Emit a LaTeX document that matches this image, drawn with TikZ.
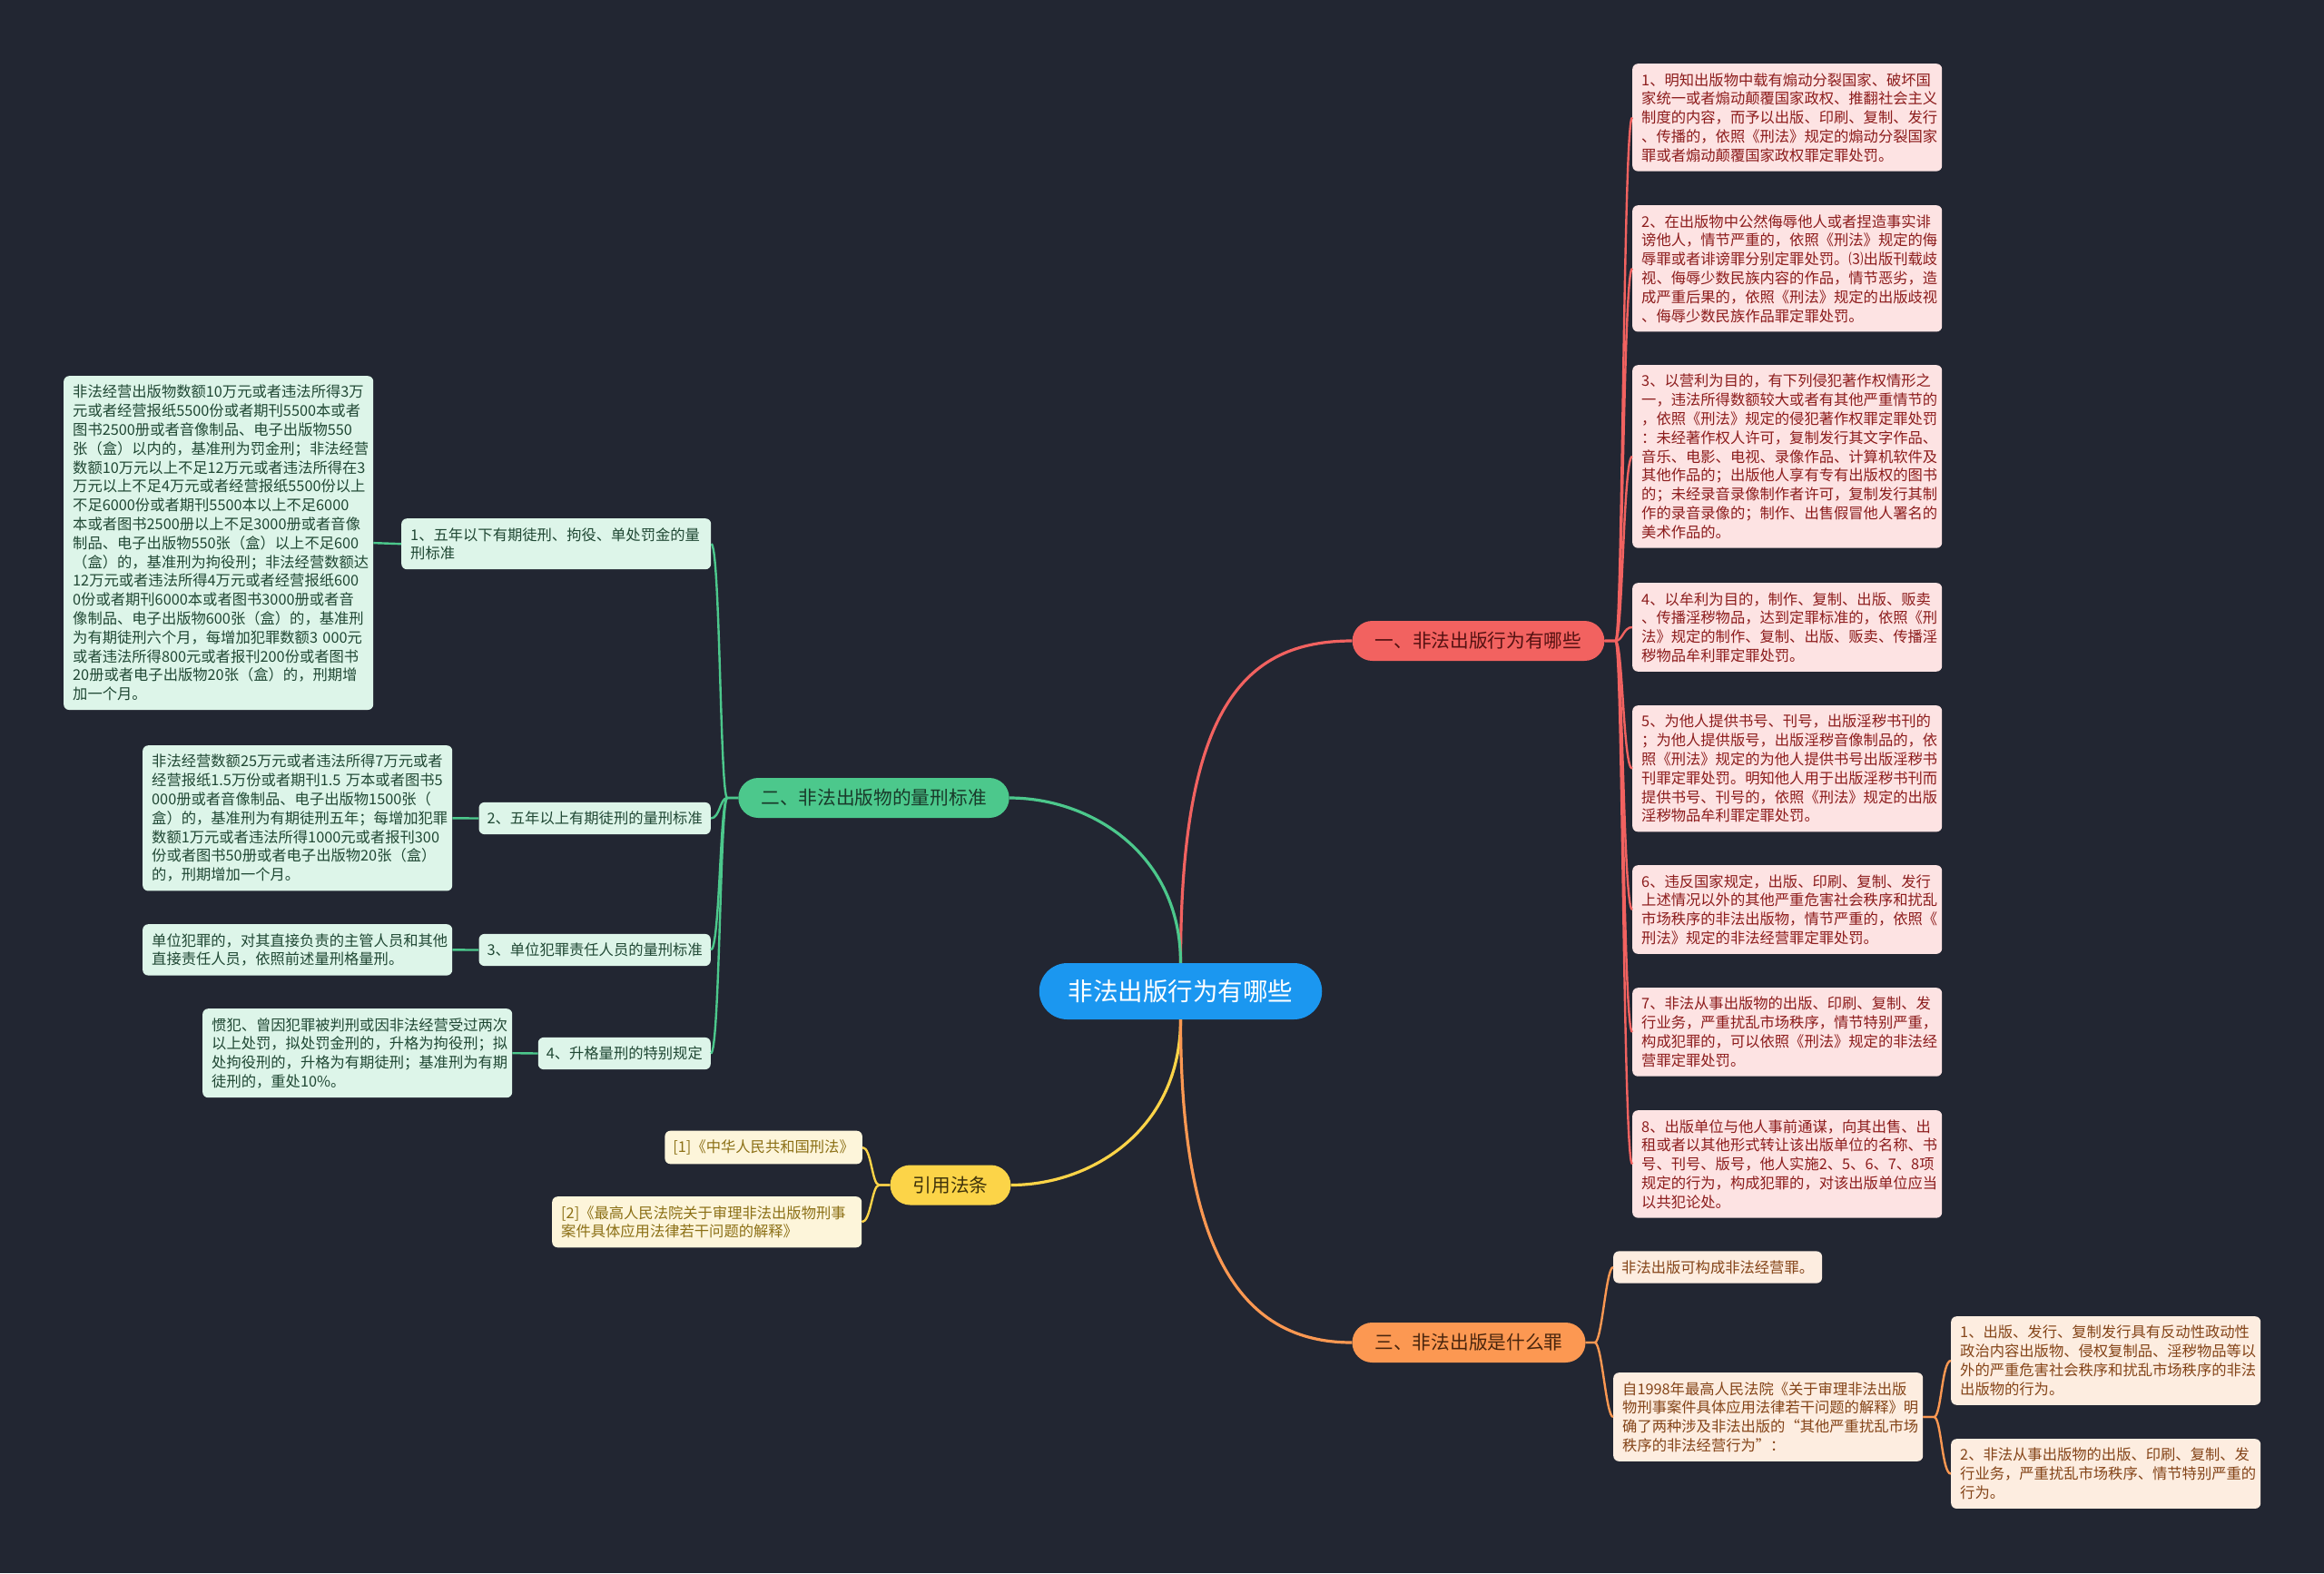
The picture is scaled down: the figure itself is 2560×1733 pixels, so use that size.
\documentclass[tikz,border=0pt]{standalone}
\usepackage{fontspec}
\newfontfamily\cjk{Noto Sans CJK SC}
\usetikzlibrary{scopes}

\definecolor{bg}{RGB}{34,38,50}
\definecolor{rootblue}{RGB}{27,151,240}
\definecolor{redmain}{RGB}{242,98,96}
\definecolor{greenmain}{RGB}{76,200,140}
\definecolor{yellowmain}{RGB}{252,212,72}
\definecolor{orangemain}{RGB}{252,152,82}
\definecolor{redleaf}{RGB}{253,227,227}
\definecolor{greenleaf}{RGB}{221,245,233}
\definecolor{yellowleaf}{RGB}{253,245,218}
\definecolor{orangeleaf}{RGB}{253,237,224}
\definecolor{redtext}{RGB}{140,28,28}
\definecolor{greentext}{RGB}{32,72,52}
\definecolor{yellowtext}{RGB}{140,112,22}
\definecolor{orangetext}{RGB}{132,68,24}

\tikzset{
  leafbox/.style={rounded corners=6pt, inner xsep=10pt, inner ysep=10pt, align=left,
    font=\cjk\fontsize{16.3}{20.8}\selectfont},
  leaf/.style={leafbox, text width=321pt},
  topic/.style={rounded corners=22pt, minimum height=44pt, inner xsep=25pt,
    font=\cjk\fontsize{20.7}{24}\selectfont},
  link/.style={line width=2.4pt},
  mainlink/.style={line width=3.2pt},
}

\begin{document}
\begin{tikzpicture}[x=1pt, y=-1pt]
  \useasboundingbox (0,0) rectangle (2560,1733);
  \fill[bg] (0,0) rectangle (2560,1733);

  \node[fill=rootblue, text=white, rounded corners=31pt, minimum height=62pt, inner xsep=32pt,
    font=\cjk\fontsize{27.5}{30}\selectfont] (root) at (1300.5,1092) {非法出版行为有哪些};

  \node[topic, fill=redmain, text=redtext!60!black] (b1) at (1628.5,706) {一、非法出版行为有哪些};
  \node[topic, fill=greenmain, text=greentext!80!black] (b2) at (962.5,879) {二、非法出版物的量刑标准};
  \node[topic, fill=yellowmain, text=yellowtext!45!black] (b3) at (1047,1305.5) {引用法条};
  \node[topic, fill=orangemain, text=orangetext!55!black] (b4) at (1618,1479) {三、非法出版是什么罪};

  { [every node/.append style={leaf, fill=redleaf, text=redtext, anchor=north west}]
    \node (r1) at (1798,70) {1、明知出版物中载有煽动分裂国家、破坏国\\家统一或者煽动颠覆国家政权、推翻社会主义\\制度的内容，而予以出版、印刷、复制、发行\\、传播的，依照《刑法》规定的煽动分裂国家\\罪或者煽动颠覆国家政权罪定罪处罚。};
    \node (r2) at (1798,226) {2、在出版物中公然侮辱他人或者捏造事实诽\\谤他人，情节严重的，依照《刑法》规定的侮\\辱罪或者诽谤罪分别定罪处罚。⑶出版刊载歧\\视、侮辱少数民族内容的作品，情节恶劣，造\\成严重后果的，依照《刑法》规定的出版歧视\\、侮辱少数民族作品罪定罪处罚。};
    \node (r3) at (1798,402) {3、以营利为目的，有下列侵犯著作权情形之\\一，违法所得数额较大或者有其他严重情节的\\，依照《刑法》规定的侵犯著作权罪定罪处罚\\：未经著作权人许可，复制发行其文字作品、\\音乐、电影、电视、录像作品、计算机软件及\\其他作品的；出版他人享有专有出版权的图书\\的；未经录音录像制作者许可，复制发行其制\\作的录音录像的；制作、出售假冒他人署名的\\美术作品的。};
    \node (r4) at (1798,642) {4、以牟利为目的，制作、复制、出版、贩卖\\、传播淫秽物品，达到定罪标准的，依照《刑\\法》规定的制作、复制、出版、贩卖、传播淫\\秽物品牟利罪定罪处罚。};
    \node (r5) at (1798,777) {5、为他人提供书号、刊号，出版淫秽书刊的\\；为他人提供版号，出版淫秽音像制品的，依\\照《刑法》规定的为他人提供书号出版淫秽书\\刊罪定罪处罚。明知他人用于出版淫秽书刊而\\提供书号、刊号的，依照《刑法》规定的出版\\淫秽物品牟利罪定罪处罚。};
    \node (r6) at (1798,953) {6、违反国家规定，出版、印刷、复制、发行\\上述情况以外的其他严重危害社会秩序和扰乱\\市场秩序的非法出版物，情节严重的，依照《\\刑法》规定的非法经营罪定罪处罚。};
    \node (r7) at (1798,1088) {7、非法从事出版物的出版、印刷、复制、发\\行业务，严重扰乱市场秩序，情节特别严重，\\构成犯罪的，可以依照《刑法》规定的非法经\\营罪定罪处罚。};
    \node (r8) at (1798,1223) {8、出版单位与他人事前通谋，向其出售、出\\租或者以其他形式转让该出版单位的名称、书\\号、刊号、版号，他人实施2、5、6、7、8项\\规定的行为，构成犯罪的，对该出版单位应当\\以共犯论处。};
  }

  { [every node/.append style={fill=greenleaf, text=greentext}]
    \node[leaf, anchor=north west] (g1) at (442,571) {1、五年以下有期徒刑、拘役、单处罚金的量\\刑标准};
    \node[leafbox, inner xsep=9pt, anchor=east] (g2) at (783,901.5) {2、五年以上有期徒刑的量刑标准};
    \node[leafbox, inner xsep=9pt, anchor=east] (g3) at (783,1046.5) {3、单位犯罪责任人员的量刑标准};
    \node[leafbox, inner xsep=9pt, anchor=east] (g4) at (783,1160.5) {4、升格量刑的特别规定};
    \node[leaf, anchor=north west] (gl1) at (70,414) {非法经营出版物数额10万元或者违法所得3万\\元或者经营报纸5500份或者期刊5500本或者\\图书2500册或者音像制品、电子出版物550\\张（盒）以内的，基准刑为罚金刑；非法经营\\数额10万元以上不足12万元或者违法所得在3\\万元以上不足4万元或者经营报纸5500份以上\\不足6000份或者期刊5500本以上不足6000\\本或者图书2500册以上不足3000册或者音像\\制品、电子出版物550张（盒）以上不足600\\（盒）的，基准刑为拘役刑；非法经营数额达\\12万元或者违法所得4万元或者经营报纸600\\0份或者期刊6000本或者图书3000册或者音\\像制品、电子出版物600张（盒）的，基准刑\\为有期徒刑六个月，每增加犯罪数额3 000元\\或者违法所得800元或者报刊200份或者图书\\20册或者电子出版物20张（盒）的，刑期增\\加一个月。};
    \node[leaf, anchor=north west] (gl2) at (157,821) {非法经营数额25万元或者违法所得7万元或者\\经营报纸1.5万份或者期刊1.5 万本或者图书5\\000册或者音像制品、电子出版物1500张（\\盒）的，基准刑为有期徒刑五年；每增加犯罪\\数额1万元或者违法所得1000元或者报刊300\\份或者图书50册或者电子出版物20张（盒）\\的，刑期增加一个月。};
    \node[leaf, anchor=north west] (gl3) at (157,1018) {单位犯罪的，对其直接负责的主管人员和其他\\直接责任人员，依照前述量刑格量刑。};
    \node[leaf, anchor=north west] (gl4) at (223,1111) {惯犯、曾因犯罪被判刑或因非法经营受过两次\\以上处罚，拟处罚金刑的，升格为拘役刑；拟\\处拘役刑的，升格为有期徒刑；基准刑为有期\\徒刑的，重处10\%。};
  }

  { [every node/.append style={fill=yellowleaf, text=yellowtext}]
    \node[leafbox, inner xsep=9pt, anchor=east] (c1) at (950,1264) {[1]《中华人民共和国刑法》};
    \node[leaf, anchor=north west] (c2) at (608,1318) {[2]《最高人民法院关于审理非法出版物刑事\\案件具体应用法律若干问题的解释》};
  }

  { [every node/.append style={fill=orangeleaf, text=orangetext}]
    \node[leafbox, inner xsep=9pt, anchor=west] (o1) at (1777,1396) {非法出版可构成非法经营罪。};
    \node[leaf, anchor=north west] (o2) at (1777,1512) {自1998年最高人民法院《关于审理非法出版\\物刑事案件具体应用法律若干问题的解释》明\\确了两种涉及非法出版的“其他严重扰乱市场\\秩序的非法经营行为”：};
    \node[leaf, anchor=north west] (o2a) at (2149,1450) {1、出版、发行、复制发行具有反动性政动性\\政治内容出版物、侵权复制品、淫秽物品等以\\外的严重危害社会秩序和扰乱市场秩序的非法\\出版物的行为。};
    \node[leaf, anchor=north west] (o2b) at (2149,1585) {2、非法从事出版物的出版、印刷、复制、发\\行业务，严重扰乱市场秩序、情节特别严重的\\行为。};
  }

  { [mainlink]
    \draw[redmain] (root.north) .. controls +(0,-280) and +(-120,0) .. (b1.west);
    \draw[greenmain] (root.north) .. controls +(0,-120) and +(90,0) .. (b2.east);
    \draw[yellowmain] (root.south) .. controls +(0,120) and +(90,0) .. (b3.east);
    \draw[orangemain] (root.south) .. controls +(0,260) and +(-120,0) .. (b4.west);
  }

  { [link]
    \foreach \n in {1,...,8}
      \draw[redmain] (b1.east) -- ++(12,0) .. controls +(8,0) and +(-10,0) .. (r\n.west);
    \foreach \n in {1,...,4} {
      \draw[greenmain] (b2.west) -- ++(-12,0) .. controls +(-8,0) and +(10,0) .. (g\n.east);
      \draw[greenmain] (g\n.west) -- (gl\n.east);
    }
    \foreach \n in {c1,c2}
      \draw[yellowmain] (b3.west) -- ++(-12,0) .. controls +(-8,0) and +(10,0) .. (\n.east);
    \foreach \n in {o1,o2}
      \draw[orangemain] (b4.east) -- ++(10,0) .. controls +(8,0) and +(-8,0) .. (\n.west);
    \foreach \n in {o2a,o2b}
      \draw[orangemain] (o2.east) -- ++(12,0) .. controls +(8,0) and +(-10,0) .. (\n.west);
  }
\end{tikzpicture}
\end{document}
